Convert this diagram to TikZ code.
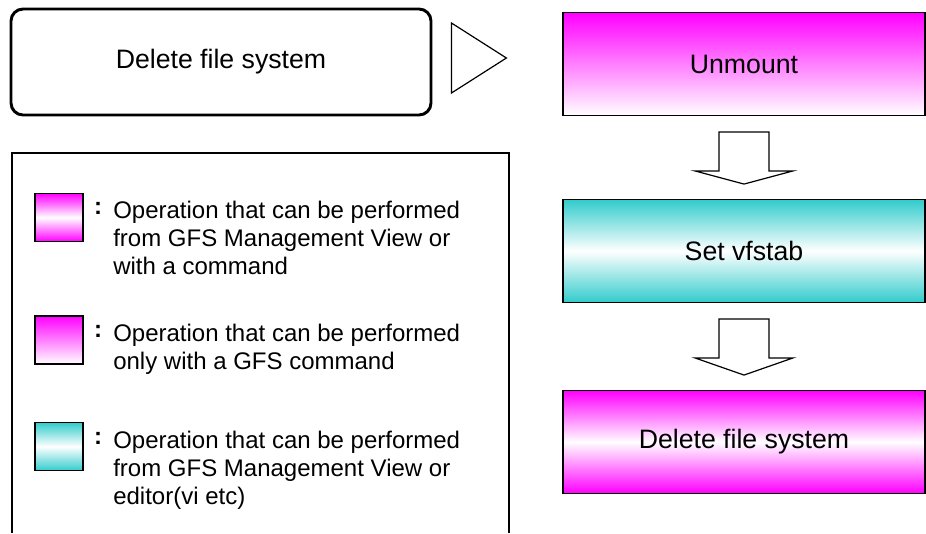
\documentclass[tikz,border=0pt]{standalone}
\usepackage{fontspec}
\setmainfont{Liberation Sans}
\usetikzlibrary{calc}

\definecolor{opmag}{RGB}{255,0,255}
\definecolor{opteal}{RGB}{51,204,204}

\begin{document}
\begin{tikzpicture}[
  x=0.75pt, y=-0.75pt,
  every node/.style={font=\fontsize{20pt}{24pt}\selectfont},
  gfsonly/.style={top color=opmag,bottom color=white},
  gfsboth/.style={top color=opmag,bottom color=opmag,middle color=white},
  gfsedit/.style={top color=opteal,bottom color=opteal,middle color=white},
  op/.style={draw,line width=0.9pt,minimum width=271.5pt,minimum height=77pt,inner sep=0pt},
  sw/.style={draw,line width=1.2pt,minimum size=36pt,inner sep=0pt},
  keytext/.style={anchor=north west,align=left,inner sep=0pt,font=\fontsize{18pt}{21pt}\selectfont},
  colon/.style={anchor=north,inner sep=0pt,font=\fontsize{18pt}{21pt}\selectfont\bfseries},
  blockarr/.style={draw,line width=0.9pt,fill=white}
]
\path[use as bounding box,fill=white] (0,0) rectangle (926,533);

% flow
\node[draw,line width=2.2pt,rounded corners=9pt,minimum width=315pt,minimum height=79.5pt] (start) at (221,62) {Delete file system};
\node[op,gfsonly] (unmount) at (744,64) {Unmount};
\node[op,gfsedit] (vfstab) at (744,251) {Set vfstab};
\node[op,gfsboth] (delfs) at (744,442) {Delete file system};

\draw[line width=0.9pt] ($(start.east)+(19,-39)$) -- ($(start.east)+(19,31)$)
  -- ($(unmount.west)+(-56,-6)$) -- cycle;
\foreach \a/\b in {unmount/vfstab,vfstab/delfs}
  \path[blockarr] ($(\a.south)+(-25,16)$) -- ++(0,39) -- ++(-24,0)
    -- ($(\b.north)+(0,-15)$) -- ($(\a.south)+(49,55)$) -- ++(-24,0) -- ++(0,-39) -- cycle;

% legend
\draw[line width=1.2pt] (12,533) -- (12,153) -- (509,153) -- (509,533);
\node[sw,gfsboth] (key1) at (59,217.5) {};
\node[sw,gfsonly] (key2) at (59,340) {};
\node[sw,gfsedit] (key3) at (59,446.5) {};
\node[colon] (c1) at (98,202) {:};
\node[colon] (c2) at (98,325) {:};
\node[colon] (c3) at (98,432) {:};
\node[keytext] (txt1) at (113,201) {Operation that can be performed\\from GFS Management View or\\with a command};
\node[keytext] (txt2) at (113,324) {Operation that can be performed\\only with a GFS command};
\node[keytext] (txt3) at (113,431) {Operation that can be performed\\from GFS Management View or\\editor(vi etc)};
\end{tikzpicture}
\end{document}
